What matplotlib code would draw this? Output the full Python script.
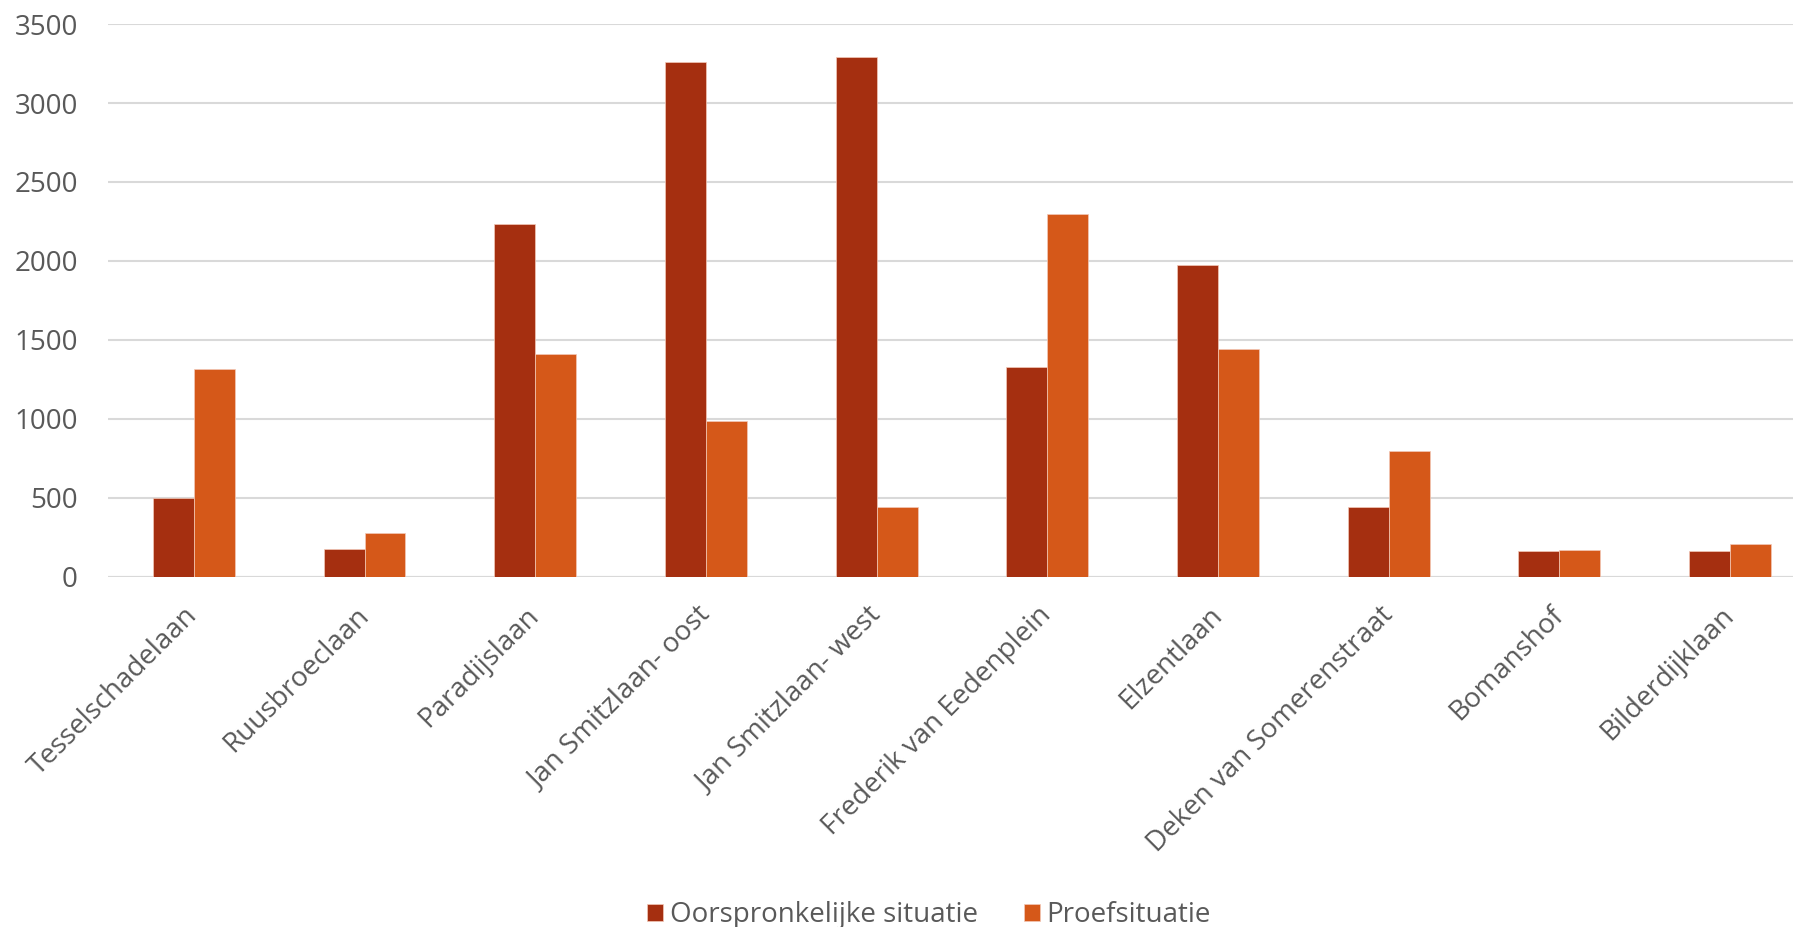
import matplotlib.pyplot as plt
import numpy as np

streets = ["Tesselschadelaan", "Ruusbroeclaan", "Paradijslaan", "Jan Smitzlaan- oost",
	"Jan Smitzlaan- west", "Frederik van Eedenplein", "Elzentlaan",
	"Deken van Somerenstraat", "Bomanshof", "Bilderdijklaan"]
original = [500, 172, 2234, 3260, 3294, 1329, 1972, 441, 160, 165]
trial = [1318, 275, 1410, 986, 442, 2297, 1439, 798, 168, 206]
series_names = ["Oorspronkelijke situatie", "Proefsituatie"]

dark = "#A52F10"
orange = "#D55819"
text_col = "#595959"

plt.rcParams['font.family'] = ['Open Sans', 'DejaVu Sans']

fig = plt.figure(figsize = (17.93, 9.27), dpi = 100)
# the original chart is cut off a little on the right
ax = fig.add_axes([0.0605, 0.378, 0.952, 0.596])

x = np.arange(len(streets))
w = 0.24
ax.bar(x - w / 2, original, w, color = dark, label = series_names[0], zorder = 3,
	edgecolor = "#F3C9B8", linewidth = 0.5)
ax.bar(x + w / 2, trial, w, color = orange, label = series_names[1], zorder = 3,
	edgecolor = "#F3C9B8", linewidth = 0.5)

ax.set_xlim(-0.5, len(streets) - 0.5)
ax.set_ylim(0, 3500)
ax.set_yticks(np.arange(0, 3501, 500))
ax.grid(axis = 'y', color = "#D9D9D9", linewidth = 1.5, zorder = 0)
for s in ax.spines.values():
	s.set_visible(False)
ax.axhline(0, color = "#D9D9D9", linewidth = 1.5, zorder = 2)

ax.tick_params(axis = 'both', length = 0, labelsize = 20, colors = text_col)
ax.tick_params(axis = 'y', pad = 22)
ax.set_xticks(x)
ax.set_xticklabels(streets, rotation = 45, ha = 'right', va = 'center', rotation_mode = 'anchor')
ax.tick_params(axis = 'x', pad = 25)

fig.legend(loc = 'center', bbox_to_anchor = (0.518, 0.013), ncol = 2, frameon = False,
	fontsize = 20, labelcolor = text_col, handlelength = 0.58, handleheight = 0.58,
	handletextpad = 0.25, columnspacing = 1.65)

fig.savefig("out.png", dpi = 100)
